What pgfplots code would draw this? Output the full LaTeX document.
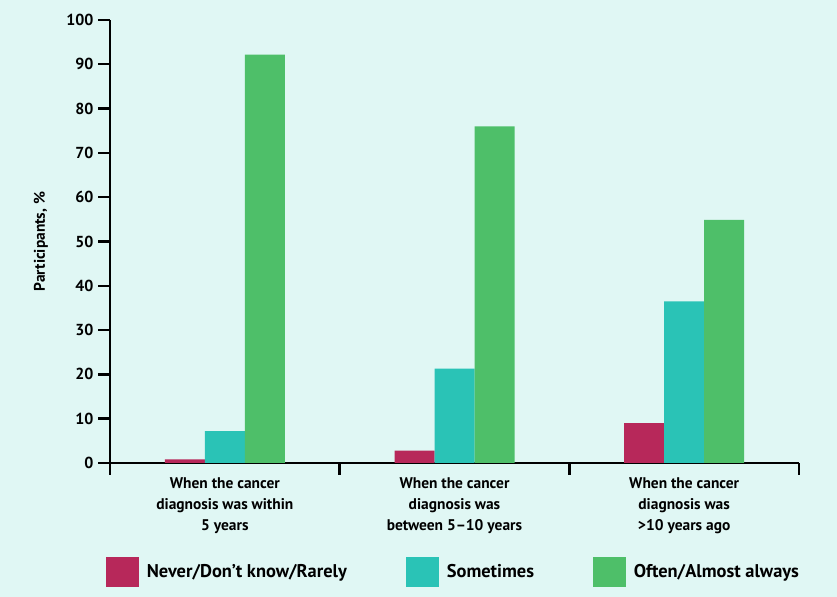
\documentclass[border=0pt]{standalone}
\usepackage{fontspec}
\setmainfont{PT Sans}
\usepackage{pgfplots}
\pgfplotsset{compat=1.18}
\definecolor{bg}{HTML}{E0F7F4}
\definecolor{cred}{HTML}{B7285A}
\definecolor{cteal}{HTML}{2AC3B6}
\definecolor{cgreen}{HTML}{4EBF69}
\begin{document}
\begin{tikzpicture}
\fill[bg] (0,0) rectangle (837bp,597bp);
\begin{axis}[
  at={(110bp,134bp)}, anchor=south west,
  scale only axis, width=689bp, height=443bp,
  xmin=0, xmax=3, ymin=0, ymax=100,
  axis x line=bottom, axis y line=left,
  axis line style={-, line width=2.4bp, black},
  every tick/.style={black, line width=2.4bp},
  ytick={0,10,...,100},
  xtick={0,1,2,3}, xticklabels={},
  tick align=outside,
  major tick length=12bp,
  /pgf/number format/assume math mode=true,
  yticklabel style={font=\bfseries\fontsize{16}{16}\selectfont, xshift=-1bp},
  extra x ticks={0.5,1.5,2.5},
  extra x tick labels={When the cancer\\diagnosis was within\\5 years, When the cancer\\diagnosis was\\between 5--10 years, When the cancer\\diagnosis was\\>10 years ago},
  extra x tick style={major tick length=0pt, tick label style={align=center, font=\bfseries\fontsize{15.5}{21}\selectfont, yshift=-11bp}},
  ylabel={Participants, \%},
  ylabel style={at={(axis description cs:-0.085,0.5)}, anchor=south, font=\bfseries\fontsize{15.5}{15.5}\selectfont},
  ybar=0pt, bar width=40bp,
  legend columns=3,
  legend style={draw=none, fill=none, inner sep=0pt, outer sep=0pt,
    at={(axis description cs:-0.006,-0.246)}, anchor=west,
    nodes={inner sep=0pt, font=\bfseries\fontsize{18.5}{18.5}\selectfont},
    /tikz/every odd column/.append style={column sep=8bp}},
  legend image code/.code={\fill[#1] (0bp,-15bp) rectangle (33bp,15bp);},
]
\addplot[fill=cred, draw=none] coordinates {(0.5,0.8) (1.5,2.8) (2.5,9.0)};
\addplot[fill=cteal, draw=none] coordinates {(0.5,7.2) (1.5,21.3) (2.5,36.5)};
\addplot[fill=cgreen, draw=none] coordinates {(0.5,92.2) (1.5,76.0) (2.5,54.9)};
\addlegendentry{\makebox[259bp][l]{Never/Don't know/Rarely}}
\addlegendentry{\makebox[146bp][l]{Sometimes}}
\addlegendentry{Often/Almost always}
\end{axis}
\end{tikzpicture}
\end{document}
